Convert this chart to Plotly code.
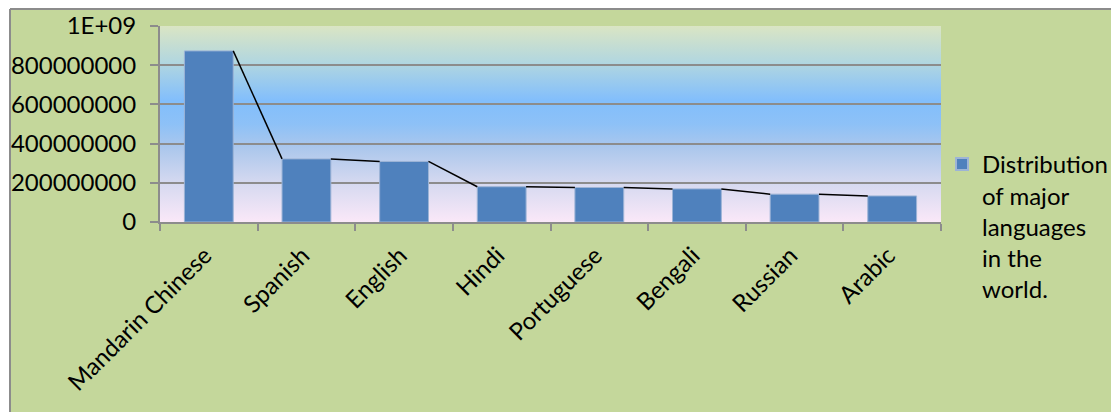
import base64
import plotly.graph_objects as go

# ---- data ----
languages = ["Mandarin Chinese", "Spanish", "English", "Hindi",
             "Portuguese", "Bengali", "Russian", "Arabic"]
speakers = [873000000, 322000000, 309000000, 180000000,
            176000000, 169000000, 142000000, 133000000]
series_name = "Distribution<br>of major<br>languages<br>in the<br>world."
y_tickvals = [0, 200000000, 400000000, 600000000, 800000000, 1000000000]
y_ticktext = ["0", "200000000", "400000000", "600000000", "800000000", "1E+09"]

# ---- layout constants (figure pixel coords; page body adds 8px offset) ----
W, H = 1111, 404
ML, MR, MT, MB = 152, 178, 18, 190
PW = W - ML - MR
PH = H - MT - MB
FONT = "Lato, 'Open Sans', sans-serif"
FS = 24
BAR_W = 0.5
GRID = "#8C8C8C"


def px2x(px):
    return (px - ML) / PW


def py2y(py):
    return (H - MB - py) / PH


# gradient for the plot area (Excel-like preset)
stops = [(0, "#DAE5C4"), (18, "#B3D7DF"), (38, "#82BEFC"), (50, "#8DC1F7"),
         (62, "#ABC7EC"), (80, "#D5D9F0"), (100, "#FAE8F8")]
stop_xml = "".join(
    f'<stop offset="{o}%" stop-color="{c}"/>' for o, c in stops)
svg = ('<svg xmlns="http://www.w3.org/2000/svg" width="100" height="100" '
       'viewBox="0 0 100 100" preserveAspectRatio="none">'
       '<defs><linearGradient id="g" x1="0" y1="0" x2="0" y2="1">'
       + stop_xml +
       '</linearGradient></defs><rect x="0" y="0" width="100" height="100" fill="url(#g)"/></svg>')
grad_src = "data:image/svg+xml;base64," + base64.b64encode(svg.encode()).decode()

fig = go.Figure()

fig.add_trace(go.Bar(
    x=languages, y=speakers, name=series_name, width=BAR_W,
    marker=dict(color="#4F81BD", line=dict(color="#9DB4D6", width=1)),
))

# series lines: from top-right of each bar to top-left of the next
lx, ly = [], []
for i in range(len(speakers) - 1):
    lx += [i + BAR_W / 2, i + 1 - BAR_W / 2, None]
    ly += [speakers[i], speakers[i + 1], None]
fig.add_trace(go.Scatter(
    x=lx, y=ly, mode="lines", xaxis="x2", showlegend=False,
    line=dict(color="black", width=1.5), hoverinfo="skip",
))

fig.update_layout(
    width=W, height=H, autosize=False,
    margin=dict(l=ML, r=MR, t=MT, b=MB, pad=0, autoexpand=False),
    paper_bgcolor="#C4D79B",
    plot_bgcolor="rgba(0,0,0,0)",
    font=dict(family=FONT, size=FS, color="black"),
    bargap=0.5,
    xaxis=dict(
        type="category", categoryorder="array", categoryarray=languages,
        range=[-0.5, len(languages) - 0.5], automargin=False,
        tickson="boundaries", ticks="outside", ticklen=7, tickwidth=2,
        tickcolor=GRID, tickangle=-45,
        ticklabelstandoff=8, ticklabelshift=-4,
        showline=True, linecolor=GRID, linewidth=2,
        showgrid=False, zeroline=False,
        tickfont=dict(family=FONT, size=FS, color="black"),
    ),
    xaxis2=dict(
        overlaying="x", range=[-0.5, len(languages) - 0.5],
        visible=False, showgrid=False, zeroline=False, automargin=False,
    ),
    yaxis=dict(
        range=[0, 1000000000], tickmode="array", automargin=False,
        tickvals=y_tickvals, ticktext=y_ticktext,
        ticks="outside", ticklen=8, tickwidth=2, tickcolor=GRID,
        showline=True, linecolor=GRID, linewidth=2,
        showgrid=True, gridcolor=GRID, gridwidth=2,
        zeroline=False, ticklabelstandoff=9,
        tickfont=dict(family=FONT, size=FS, color="black"),
    ),
    showlegend=True,
    legend=dict(
        xref="container", yref="container",
        x=934 / W, xanchor="left", y=1 - 134 / H, yanchor="top",
        valign="top", bgcolor="rgba(0,0,0,0)",
        font=dict(family=FONT, size=FS, color="black"),
        itemsizing="constant",
    ),
    images=[dict(
        source=grad_src, xref="paper", yref="paper",
        x=0, y=1, sizex=1, sizey=1, xanchor="left", yanchor="top",
        sizing="stretch", layer="below",
    )],
    shapes=[
        # white strip left of the chart frame
        dict(type="rect", xref="paper", yref="paper", layer="above",
             x0=px2x(0), x1=px2x(2), y0=py2y(H), y1=py2y(0),
             fillcolor="white", line=dict(width=0)),
        # chart frame border
        dict(type="line", xref="paper", yref="paper", layer="above",
             x0=px2x(2), x1=px2x(W), y0=py2y(1), y1=py2y(1),
             line=dict(color=GRID, width=2)),
        dict(type="line", xref="paper", yref="paper", layer="above",
             x0=px2x(2), x1=px2x(2), y0=py2y(1), y1=py2y(H),
             line=dict(color=GRID, width=2)),
    ],
)

fig.write_html("out.html")
